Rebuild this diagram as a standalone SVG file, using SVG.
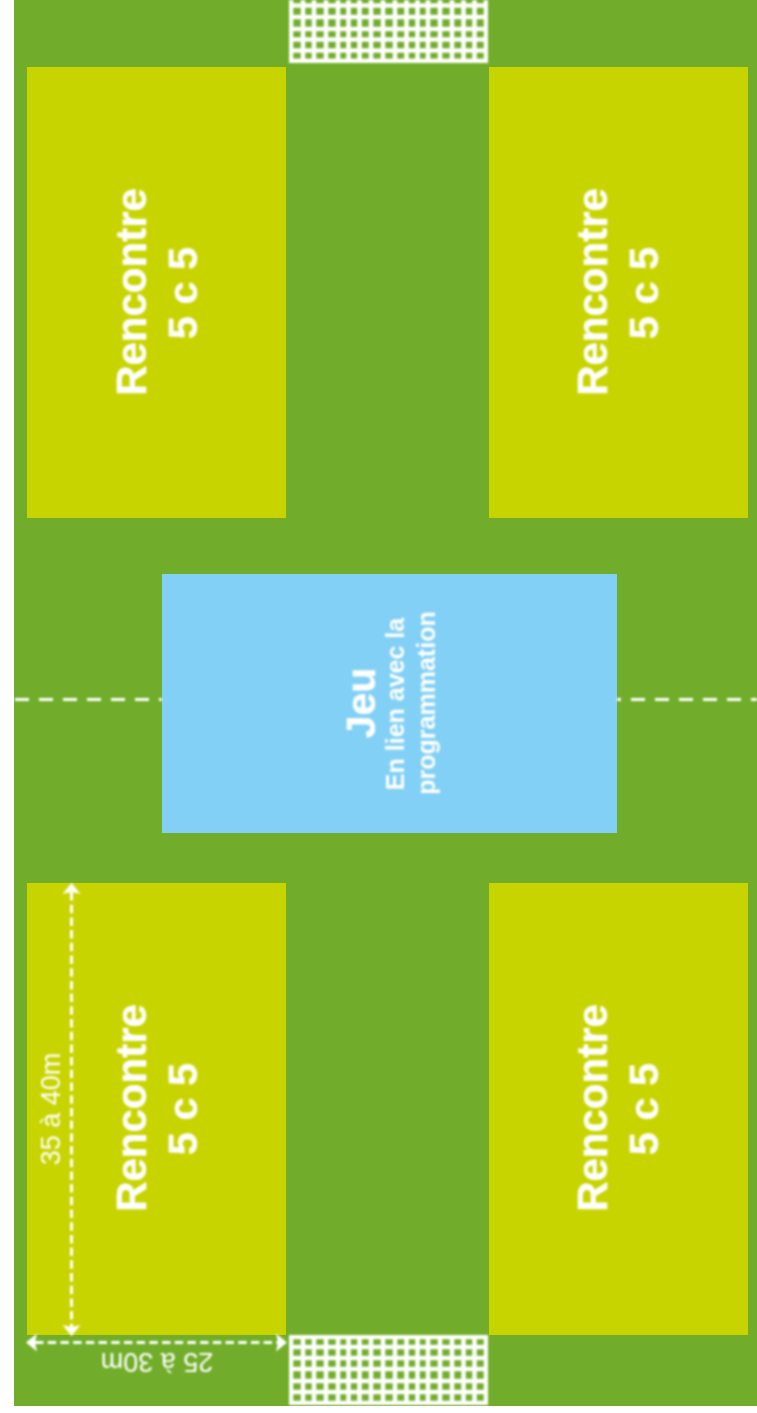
<svg xmlns="http://www.w3.org/2000/svg" width="757" height="1413" viewBox="0 0 757 1413">
<style>
.t{font-family:"Liberation Sans",Arial,sans-serif;fill:#fff;text-anchor:middle}
.b{font-weight:bold}
.z{fill:#c8d400}
.d{stroke:#fff;stroke-width:3;fill:none;stroke-dasharray:8.500 4.200}
.c{stroke:#fff;stroke-width:3;fill:none;stroke-dasharray:14 10}
.n{stroke:#fff;stroke-width:4.600;fill:none}
</style>
<defs>
<filter id="s" x="-10%" y="-10%" width="120%" height="120%"><feGaussianBlur stdDeviation="0.8"/></filter>
<path id="net" class="n" d="M291 -10V200H486V-10ZM303 0V200M314 0V200M326 0V200M338 0V200M348.500 0V200M359.500 0V200M371 0V200M383 0V200M395 0V200M406.500 0V200M417.500 0V200M428 0V200M440 0V200M452 0V200M463.500 0V200M474.500 0V200"/>
</defs>
<rect id="field" x="14" y="0" width="743" height="1406" fill="#71ad2a"/>
<g id="zone-top-left"><rect class="z" x="27" y="67" width="259" height="451"/>
<text class="t b" filter="url(#s)" font-size="42" stroke="#fff" stroke-width="0.400" transform="translate(146,292) rotate(-90)">Rencontre</text>
<text class="t b" filter="url(#s)" font-size="41.500" stroke="#fff" stroke-width="0.400" transform="translate(197,293) rotate(-90)">5 c 5</text></g>
<g id="zone-top-right"><rect class="z" x="489" y="67" width="259" height="451"/>
<text class="t b" filter="url(#s)" font-size="42" stroke="#fff" stroke-width="0.400" transform="translate(607,292) rotate(-90)">Rencontre</text>
<text class="t b" filter="url(#s)" font-size="41.500" stroke="#fff" stroke-width="0.400" transform="translate(658,293) rotate(-90)">5 c 5</text></g>
<g id="zone-bottom-left"><rect class="z" x="27" y="883" width="259" height="452"/>
<text class="t b" filter="url(#s)" font-size="42" stroke="#fff" stroke-width="0.400" transform="translate(146,1108) rotate(-90)">Rencontre</text>
<text class="t b" filter="url(#s)" font-size="41.500" stroke="#fff" stroke-width="0.400" transform="translate(197,1109) rotate(-90)">5 c 5</text></g>
<g id="zone-bottom-right"><rect class="z" x="489" y="883" width="259" height="452"/>
<text class="t b" filter="url(#s)" font-size="42" stroke="#fff" stroke-width="0.400" transform="translate(607,1108) rotate(-90)">Rencontre</text>
<text class="t b" filter="url(#s)" font-size="41.500" stroke="#fff" stroke-width="0.400" transform="translate(658,1109) rotate(-90)">5 c 5</text></g>
<g id="zone-jeu"><rect x="162" y="574" width="455" height="259" fill="#82d0f5"/>
<text class="t b" filter="url(#s)" font-size="41" stroke="#fff" stroke-width="0.400" transform="translate(375,703) rotate(-90)">Jeu</text>
<text class="t b" filter="url(#s)" font-size="25" transform="translate(404,704) rotate(-90)">En lien avec la</text>
<text class="t b" filter="url(#s)" font-size="25" transform="translate(435,703) rotate(-90)">programmation</text></g>
<g id="goal-top" filter="url(#s)"><svg x="289" y="0" width="199" height="63" viewBox="289 0 199 63"><use href="#net" transform="translate(0,-139)"/><path class="n" d="M289 61H488M289 5.500H488M289 17H488M289 29H488M289 39.500H488M289 50.500H488"/></svg></g>
<g id="goal-bottom" filter="url(#s)"><svg x="289" y="1335" width="199" height="70" viewBox="289 1335 199 70"><use href="#net" transform="translate(0,1205)"/><path class="n" d="M289 1337H488M289 1403H488M289 1347H488M289 1358H488M289 1369H488M289 1381H488M289 1392H488"/></svg></g>
<g id="connectors" filter="url(#s)">
<path class="c" d="M15 699.500H162"/>
<path class="c" stroke-dashoffset="10" d="M617 699.500H757"/>
<path class="d" d="M71.500 892V1327"/>
<path class="d" d="M35 1342.500H278"/>
<path fill="#fff" d="M71.500 883L80.500 894L71.500 892L62.500 894ZM71.500 1336L62.500 1325L71.500 1327L80.500 1325ZM26 1342.500L37 1333.500L35 1342.500L37 1351.500ZM287 1342.500L276 1333.500L278 1342.500L276 1351.500Z"/>
</g>
<g id="dimension-labels">
<text class="t" filter="url(#s)" font-size="27" transform="translate(60,1109) rotate(-90)">35 à 40m</text>
<text class="t" filter="url(#s)" font-size="27" transform="translate(157,1353) rotate(180)">25 à 30m</text>
</g>
</svg>
